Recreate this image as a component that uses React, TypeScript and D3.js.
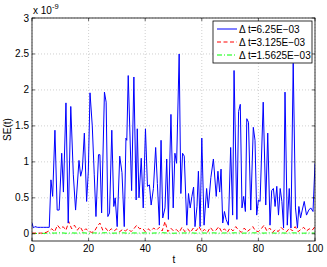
import React from "react";
import * as d3 from "d3";

// blue series (dt = 6.25E-03), values in 1e-9
const blueT = [0, 0.5, 1, 2, 3, 4, 5, 6.1, 6.7, 7.3, 8.1, 8.9, 9.6, 10.5, 11.1, 12, 12.8, 13.7, 14.6, 15.4,
  16.6, 17.2, 17.8, 18.5, 19.3, 19.9, 20.5, 21.3, 22, 22.6, 23.5, 24, 24.6, 25.6, 26.2, 26.8, 27.4, 28.2, 28.9, 29.4,
  30.1, 31, 31.8, 32.6, 33.2, 33.5, 34, 35.2, 36, 36.8, 37.2, 37.8, 38.6, 39.3, 40.1, 40.8, 41.5, 42.1, 42.9, 43.7,
  44.3, 45, 45.6, 46.2, 47, 47.6, 48.2, 49.1, 49.9, 50.5, 51.1, 52, 52.6, 53.2, 53.8, 54.7, 55.3, 55.9, 56.5, 57.1,
  57.6, 58.3, 58.8, 59.4, 60, 60.8, 61.7, 62.3, 63.2, 64.1, 65.1, 65.7, 66.3, 66.8, 67.4, 68, 68.6, 69.4, 70.2, 70.9,
  71.4, 72.4, 73, 73.6, 74.2, 74.8, 75.4, 75.9, 76.5, 77.3, 78.2, 78.8, 79.4, 80, 80.6, 81.7, 82.6, 83.3, 84.1, 84.7,
  85.3, 85.9, 86.5, 87.1, 87.7, 88.3, 88.9, 89.4, 90.2, 90.9, 91.5, 92.3, 93.1, 93.8, 94.3, 94.9, 95.5, 96.2, 97, 97.8,
  98.5, 99.3, 100];
const blueV = [0.15, 0.08, 0.1, 0.09, 0.09, 0.09, 0.09, 0.09, 0.75, 0.52, 1.44, 0.33, 0.33, 1.12, 0.58, 1.82, 0.15, 1.77, 0.82, 0.33,
  1.02, 0.8, 0.9, 1.4, 0.45, 0.87, 1.96, 1.5, 0.82, 0.24, 1.1, 1.1, 0.29, 1.97, 1.83, 0.24, 0.29, 1.44, 0.38, 0.5,
  0.1, 1.08, 0.85, 0.1, 1.33, 1.3, 2.2, 0.6, 2.18, 0.47, 1.46, 0.5, 1.05, 0.36, 1.46, 0.66, 0.68, 0.4, 0.63, 1.2,
  0.7, 0.12, 1.3, 0.22, 0.36, 1.04, 0.2, 1.66, 0.36, 1.12, 0.98, 2.5, 0.56, 1.12, 1.08, 0.12, 0.56, 0.36, 0.52, 0.65,
  0.1, 0.38, 0.87, 0.1, 1.33, 0.12, 0.63, 0.36, 0.78, 1.04, 0.52, 0.87, 0.58, 0.9, 0.15, 0.31, 0.2, 0.12, 1.2, 0.26,
  2.27, 0.2, 1.7, 1.8, 0.36, 0.52, 0.31, 1.6, 1.55, 0.33, 1.48, 1.3, 0.26, 0.47, 0.45, 1.83, 0.4, 1.4, 0.12, 0.6,
  0.63, 0.38, 0.66, 0.26, 0.63, 0.45, 0.08, 1.97, 0.12, 0.63, 0.08, 2.37, 0.36, 0.08, 0.38, 0.22, 0.33, 0.45, 0.26, 0.33,
  0.36, 0.31, 0.98];

// red series (dt = 3.125E-03), t = 0..100 step 1
const redV = [0.01, 0.01, 0.01, 0.01, 0.01, 0.02, 0.04, 0.07, 0.03, 0.12, 0.07,
  0.1, 0.05, 0.17, 0.07, 0.12, 0.05, 0.1, 0.03, 0.07, 0.04,
  0.02, 0.03, 0.1, 0.15, 0.05, 0.08, 0.03, 0.07, 0.04, 0.07,
  0.03, 0.06, 0.04, 0.07, 0.03, 0.07, 0.12, 0.07, 0.08, 0.03,
  0.07, 0.04, 0.08, 0.05, 0.09, 0.04, 0.17, 0.03, 0.08, 0.04,
  0.06, 0.02, 0.09, 0.03, 0.07, 0.02, 0.08, 0.04, 0.1, 0.03,
  0.06, 0.02, 0.09, 0.04, 0.05, 0.1, 0.03, 0.07, 0.02, 0.08,
  0.04, 0.1, 0.05, 0.02, 0.08, 0.03, 0.06, 0.1, 0.04, 0.03,
  0.07, 0.12, 0.04, 0.08, 0.02, 0.06, 0.03, 0.09, 0.05, 0.03,
  0.08, 0.04, 0.1, 0.03, 0.06, 0.09, 0.04, 0.07, 0.05, 0.1, 0.06];

// green series (dt = 1.5625E-03), t = 0..100 step 2
const greenV = [0.005, 0.005, 0.006, 0.012, 0.01, 0.015, 0.008, 0.012, 0.01, 0.014, 0.008,
  0.012, 0.01, 0.015, 0.009, 0.011, 0.014, 0.008, 0.012, 0.01, 0.013,
  0.009, 0.012, 0.015, 0.01, 0.008, 0.012, 0.011, 0.014, 0.009, 0.012,
  0.01, 0.013, 0.009, 0.012, 0.01, 0.014, 0.009, 0.011, 0.013, 0.012,
  0.01, 0.014, 0.009, 0.012, 0.01, 0.013, 0.011, 0.009, 0.012, 0.01];

const xTicks = [0, 20, 40, 60, 80, 100];
const yTicks = [0, 0.5, 1, 1.5, 2, 2.5, 3];
const legendLabels = ["\u0394 t=6.25E\u221203", "\u0394 t=3.125E\u221203", "\u0394 t=1.5625E\u221203"];

const W = 327, H = 267;
const L = 32, R = 315, T = 18, B = 241;
const font = "Liberation Sans, Arial, sans-serif";

export default function App() {
  const x = d3.scaleLinear().domain([0, 100]).range([L, R]);
  const y = d3.scaleLinear().domain([-0.1, 3]).range([B, T]);

  const line = d3.line<[number, number]>().x(d => x(d[0])).y(d => y(d[1]));
  const blue = line(blueT.map((t, i) => [t, blueV[i]]));
  const red = line(redV.map((v, i) => [i, v]));
  const green = line(greenV.map((v, i) => [i * 2, v]));

  const series = [
    { d: blue, color: "#0000ff", dash: "none" },
    { d: red, color: "#ff0000", dash: "4,2.5" },
    { d: green, color: "#00ff00", dash: "5,2,1,2" },
  ];

  return (
    <svg width={W} height={H} style={{ position: "absolute", left: 0, top: 0, background: "#fff" }}>
      <rect x={0} y={0} width={W} height={H} fill="#fff" />
      {/* grid */}
      {xTicks.map(t => (
        <line key={"gx" + t} x1={x(t)} x2={x(t)} y1={T} y2={B} stroke="#b0b0b0" strokeWidth={0.6} strokeDasharray="1,2" />
      ))}
      {yTicks.map(t => (
        <line key={"gy" + t} x1={L} x2={R} y1={y(t)} y2={y(t)} stroke="#b0b0b0" strokeWidth={0.6} strokeDasharray="1,2" />
      ))}
      {/* data */}
      <defs>
        <clipPath id="plot">
          <rect x={L} y={T} width={R - L} height={B - T} />
        </clipPath>
      </defs>
      <g clipPath="url(#plot)">
        {series.slice().reverse().map((s, i) => (
          <path key={i} d={s.d || ""} fill="none" stroke={s.color} strokeWidth={1} strokeDasharray={s.dash} />
        ))}
      </g>
      {/* ticks */}
      {xTicks.map(t => (
        <g key={"tx" + t}>
          <line x1={x(t)} x2={x(t)} y1={B} y2={B - 3} stroke="#000" strokeWidth={0.6} />
          <line x1={x(t)} x2={x(t)} y1={T} y2={T + 3} stroke="#000" strokeWidth={0.6} />
          <text x={x(t)} y={252} textAnchor="middle" fontSize={10} fontFamily={font}>{t}</text>
        </g>
      ))}
      {yTicks.map(t => (
        <g key={"ty" + t}>
          <line x1={L} x2={L + 3} y1={y(t)} y2={y(t)} stroke="#000" strokeWidth={0.6} />
          <line x1={R} x2={R - 3} y1={y(t)} y2={y(t)} stroke="#000" strokeWidth={0.6} />
          <text x={L - 3} y={y(t) + 3.5} textAnchor="end" fontSize={10} fontFamily={font}>{t}</text>
        </g>
      ))}
      <rect x={L} y={T} width={R - L} height={B - T} fill="none" stroke="#000" strokeWidth={0.8} />
      {/* exponent */}
      <text x={33} y={14} fontSize={10} fontFamily={font}>x 10</text>
      <text x={52} y={9} fontSize={7.5} fontFamily={font}>-9</text>
      {/* axis labels */}
      <text x={174} y={263} textAnchor="middle" fontSize={10} fontFamily={font}>t</text>
      <text transform={`translate(11,${(T + B) / 2}) rotate(-90)`} textAnchor="middle" fontSize={10} fontFamily={font}>SE(t)</text>
      {/* legend */}
      <rect x={213} y={21} width={99} height={42} fill="#fff" stroke="#000" strokeWidth={0.8} />
      {series.map((s, i) => (
        <g key={"lg" + i}>
          <line x1={217} x2={237} y1={29 + i * 13} y2={29 + i * 13} stroke={s.color} strokeWidth={1} strokeDasharray={s.dash} />
          <text x={239} y={29 + i * 13 + 3.5} fontSize={10} fontFamily={font}>{legendLabels[i]}</text>
        </g>
      ))}
    </svg>
  );
}
